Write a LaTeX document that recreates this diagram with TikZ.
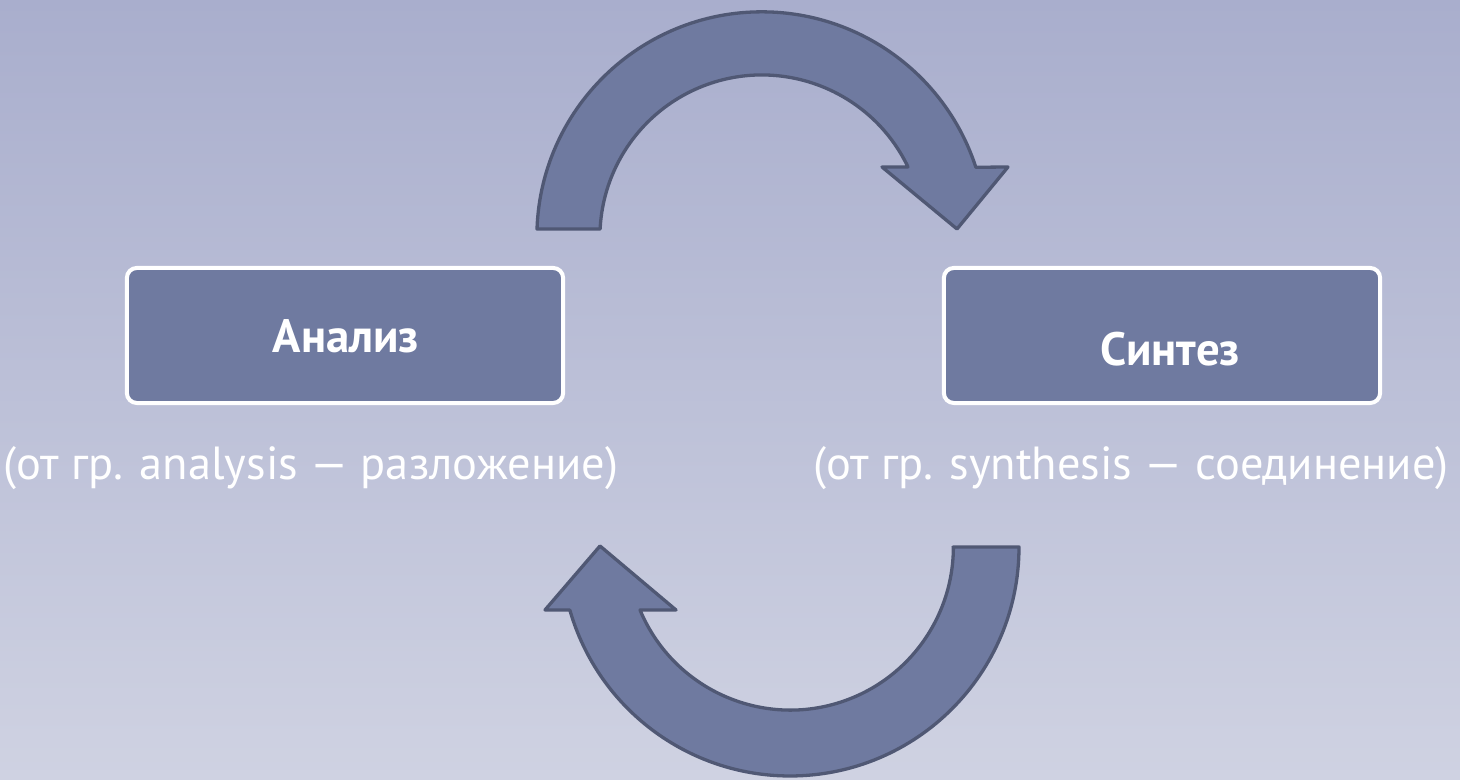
\documentclass[tikz,border=0pt]{standalone}
\usepackage{fontspec}
\setmainfont{PT Sans}
\usepackage{xcolor}
\usetikzlibrary{positioning}

\definecolor{bgtop}{RGB}{169,174,205}
\definecolor{bgbottom}{RGB}{207,210,226}
\definecolor{boxfill}{RGB}{111,122,160}
\definecolor{arrowline}{RGB}{80,88,116}

\tikzset{
  stepbox/.style={draw=white, line width=0.04cm, fill=boxfill, rounded corners=0.1cm,
    minimum width=4.36cm, minimum height=1.35cm, inner sep=0pt},
  boxlabel/.style={text=white, font=\fontsize{13.3}{15}\selectfont\bfseries, inner sep=0pt},
  sublabel/.style={text=white, font=\fontsize{13.2}{15}\selectfont, inner sep=0pt},
  roundarrow/.style={draw=arrowline, line width=0.033cm, fill=boxfill, line join=round}
}

\begin{document}
\begin{tikzpicture}[x=0.01cm, y=0.01cm]

\shade[top color=bgtop, bottom color=bgbottom] (0,0) rectangle (1460,780);
\useasboundingbox (0,0) rectangle (1460,780);

\begin{scope}{
% left box
\node[stepbox] (analiz) at (345,444.5) {};
\node[boxlabel] (analiztext) at (346,444) {Анализ};;
\node[sublabel] (analizsub) at (311,312) {(от гр. analysis — разложение)};;
} \end{scope}

\begin{scope}{
% right box
\node[stepbox] (sintez) at (1162,444.5) {};
\node[boxlabel] (sinteztext) at (1170,431) {Синтез};;
\node[sublabel] (sintezsub) at (1131,312) {(от гр. synthesis — соединение)};;
} \end{scope}

% upper arrow
\draw[roundarrow] (537,551) arc[start angle=178, end angle=18, radius=225]
  --(1008,613)--(957,551)--(882,613)--(908,613)
  arc[start angle=25.6, end angle=177.2, radius=162]--cycle;

% lower arrow
\draw[roundarrow] (953,233)--(1019,233) arc[start angle=0, end angle=-164, radius=229]
  --(545,170)--(600,234)--(676,170)--(640,170)
  arc[start angle=-157.3, end angle=0, radius=163]--cycle;

\end{tikzpicture}
\end{document}
